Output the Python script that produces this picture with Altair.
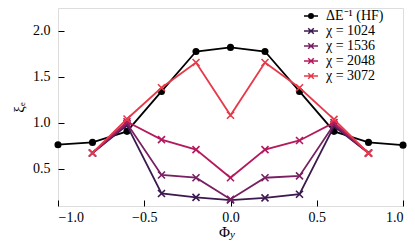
import altair as alt
import pandas as pd

phi_hf = [-1.0, -0.8, -0.6, -0.4, -0.2, 0.0, 0.2, 0.4, 0.6, 0.8, 1.0]
xi_hf = [0.76, 0.785, 0.905, 1.34, 1.775, 1.82, 1.775, 1.34, 0.905, 0.785, 0.755]

phi_chi = [-0.8, -0.6, -0.4, -0.2, 0.0, 0.2, 0.4, 0.6, 0.8]
xi_1024 = [0.67, 0.97, 0.228, 0.186, 0.157, 0.18, 0.22, 0.96, 0.67]
xi_1536 = [0.67, 0.99, 0.43, 0.40, 0.165, 0.40, 0.42, 0.98, 0.67]
xi_2048 = [0.67, 1.01, 0.815, 0.706, 0.40, 0.706, 0.806, 1.0, 0.67]
xi_3072 = [0.67, 1.04, 1.38, 1.655, 1.08, 1.655, 1.38, 1.035, 0.665]

series_names = ["HF", "1024", "1536", "2048", "3072"]
series_colors = ["#000000", "#3b1a4f", "#782062", "#b5195d", "#e63a4a"]

rows = []
for p, v in zip(phi_hf, xi_hf):
    rows.append({"phi": p, "xi": v, "series": "HF"})
for name, vals in zip(series_names[1:], [xi_1024, xi_1536, xi_2048, xi_3072]):
    for p, v in zip(phi_chi, vals):
        rows.append({"phi": p, "xi": v, "series": name})
df = pd.DataFrame(rows)

FONT = "Liberation Serif"
XPATH = "M-1,-1L1,1M-1,1L1,-1"
# legend glyphs: short line with a (filled-looking) circle or a cross
LEG_CIRCLE = ("M-1,0H1"
              "M-0.32,0A0.32,0.32 0 1,0 0.32,0A0.32,0.32 0 1,0 -0.32,0"
              "M-0.19,0A0.19,0.19 0 1,0 0.19,0A0.19,0.19 0 1,0 -0.19,0"
              "M-0.07,0A0.07,0.07 0 1,0 0.07,0A0.07,0.07 0 1,0 -0.07,0")
LEG_CROSS = "M-1,0H1M-0.4,-0.4L0.4,0.4M-0.4,0.4L0.4,-0.4"

xscale = alt.Scale(domain=[-1, 1], nice=False, zero=False)
yscale = alt.Scale(domain=[0.092, 2.249], nice=False, zero=False)

xaxis = alt.Axis(values=[-1, -0.5, 0, 0.5, 1], format=".1f", title=None, grid=False,
                 domain=False, offset=-6, tickSize=6, tickColor="black", tickWidth=1,
                 labelPadding=4, labelFont=FONT, labelFontSize=14, labelColor="black")
yaxis = alt.Axis(values=[0.5, 1.0, 1.5, 2.0], format=".1f", title="ξₑ", grid=False,
                 domain=False, offset=-6, tickSize=6, tickColor="black", tickWidth=1,
                 labelPadding=8, labelFont=FONT, labelFontSize=14, labelColor="black",
                 titleFont=FONT, titleFontSize=15, titleFontWeight="normal",
                 titleColor="black", titlePadding=6)

legend = alt.Legend(
    orient="none", legendX=245, legendY=0, title=None, padding=0, rowPadding=0,
    labelOffset=7, symbolSize=196, symbolStrokeWidth=1.5, symbolOpacity=1,
    symbolFillColor="transparent", labelFont=FONT,
    labelFontSize=14, labelColor="black",
    labelExpr="datum.value == 'HF' ? 'ΔE⁻¹ (HF)' : 'χ = ' + datum.value",
)

cscale = alt.Scale(domain=series_names, range=series_colors)
color = alt.Color("series:N", scale=cscale, legend=legend)
shape = alt.Shape("series:N", scale=alt.Scale(domain=series_names,
                  range=[LEG_CIRCLE, LEG_CROSS, LEG_CROSS, LEG_CROSS, LEG_CROSS]),
                  legend=legend)

base = alt.Chart(df)
layers = []
for name, col in zip(series_names, series_colors):
    sub = base.transform_filter(alt.datum.series == name)
    line = sub.mark_line(strokeWidth=1.8, color=col).encode(
        x=alt.X("phi:Q", scale=xscale, axis=xaxis),
        y=alt.Y("xi:Q", scale=yscale, axis=yaxis),
    )
    if name == "HF":
        pts = sub.mark_point(shape="circle", filled=True, size=50, opacity=1)
    else:
        pts = sub.mark_point(shape=XPATH, filled=False, size=49, strokeWidth=1.6, opacity=1)
    pts = pts.encode(
        x=alt.X("phi:Q", scale=xscale, axis=xaxis),
        y=alt.Y("xi:Q", scale=yscale, axis=yaxis),
        color=color,
    )
    layers += [line, pts]

# legend-only layer (no marks drawn)
leg_layer = base.transform_filter("false").mark_point(filled=False, strokeWidth=1.5).encode(
    x=alt.X("phi:Q", scale=xscale, axis=xaxis),
    y=alt.Y("xi:Q", scale=yscale, axis=yaxis),
    color=color, shape=shape,
)

title_df = pd.DataFrame({"t": ["Φ"]})
sub_df = pd.DataFrame({"t": ["y"]})
xt_main = alt.Chart(title_df).mark_text(font=FONT, fontSize=15, align="right",
                                        baseline="alphabetic", color="black").encode(
    text="t:N", x=alt.value(172), y=alt.value(229))
xt_sub = alt.Chart(sub_df).mark_text(font=FONT, fontSize=11, fontStyle="italic", align="left",
                                     baseline="alphabetic", color="black").encode(
    text="t:N", x=alt.value(172), y=alt.value(230))

chart = alt.layer(leg_layer, *layers, xt_main, xt_sub).properties(
    width=345, height=198,
    autosize=alt.AutoSizeParams(type="none"),
    padding={"left": 50, "top": 0, "right": 4, "bottom": 34},
).configure_view(stroke="black", strokeWidth=1).configure(background="white")

chart.save("out.html", embed_options={"renderer": "svg", "actions": False})
